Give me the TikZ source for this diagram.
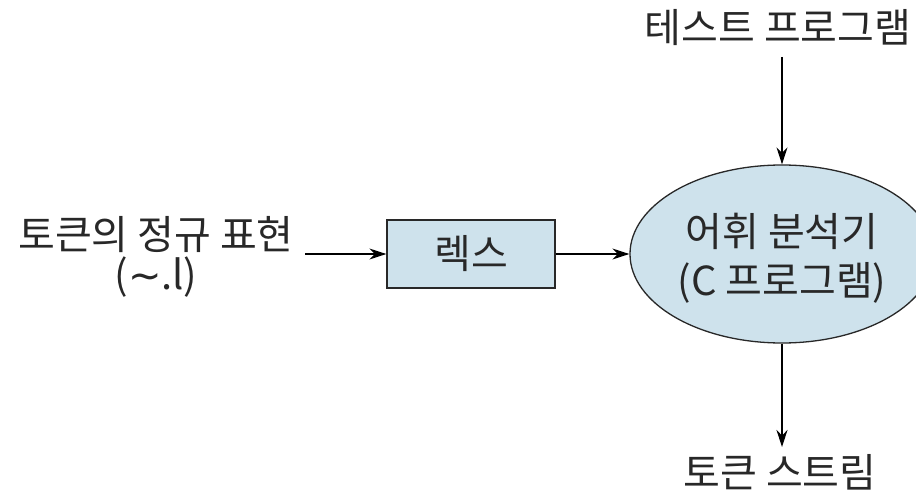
\documentclass[tikz,border=0pt]{standalone}
\usepackage{fontspec}
\setmainfont{Noto Sans CJK KR}
\newfontfamily\symfont{DejaVu Sans}
\usetikzlibrary{shapes.geometric,arrows.meta}
\definecolor{boxblue}{RGB}{206,226,236}
\definecolor{inkgray}{RGB}{40,40,40}
\tikzset{
  lbl/.style={inner sep=0pt, font=\fontsize{40}{40}\selectfont, text=inkgray, align=center},
  conn/.style={draw=black, line width=1.2pt, -{Stealth[length=17pt,width=11pt]}},
  lexbox/.style={draw=inkgray, line width=1.3pt, fill=boxblue, minimum width=168pt, minimum height=68pt, inner sep=0pt, font=\fontsize{40}{48}\selectfont, text=inkgray},
  analyzer/.style={ellipse, draw=inkgray, line width=1.3pt, fill=boxblue, minimum width=304pt, minimum height=178pt, inner sep=0pt, font=\fontsize{40}{49}\selectfont, text=inkgray, align=center}
}
\begin{document}
\begin{tikzpicture}[x=1pt,y=-1pt]
\useasboundingbox (0,0) rectangle (916,495);
\clip (0,0) rectangle (916,495);
\fill[white] (0,0) rectangle (916,495);
\node[lbl] (regex) at (156,257) {토큰의 정규 표현\\({\symfont ∼}.l)};
\node[lexbox] (lex) at (471,254) {렉스};
\node[analyzer, text depth=0pt] (ana) at (782,254) {어휘 분석기\\(C 프로그램)};
\node[lbl] (test) at (778,28) {테스트 프로그램};
\node[lbl] (stream) at (780,472) {토큰 스트림};
\coordinate (regexend) at (305,254);
\coordinate (teststart) at (782,57);
\coordinate (streamend) at (782,447);
\draw[conn] (regexend) -- (lex.west);
\draw[conn] (lex.east) -- (ana.west);
\draw[conn] (teststart) -- (ana.north);
\draw[conn] (ana.south) -- (streamend);
\end{tikzpicture}
\end{document}
